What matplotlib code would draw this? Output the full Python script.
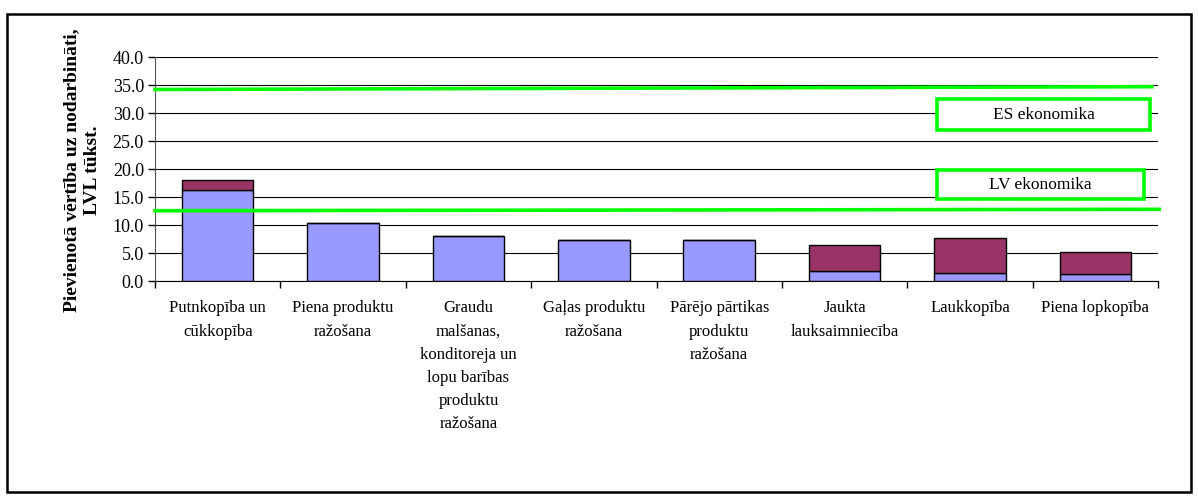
import matplotlib.pyplot as plt
from matplotlib.patches import Rectangle
import numpy as np

plt.rcParams['font.family'] = ['Liberation Serif', 'DejaVu Serif']

# categories and values (LVL thousands per employee)
categories = [
    "Putnkopība un\ncūkkopība",
    "Piena produktu\nražošana",
    "Graudu\nmalšanas,\nkonditoreja un\nlopu barības\nproduktu\nražošana",
    "Gaļas produktu\nražošana",
    "Pārējo pārtikas\nproduktu\nražošana",
    "Jaukta\nlauksaimniecība",
    "Laukkopība",
    "Piena lopkopība",
]
base_values = [16.2, 10.3, 8.1, 7.4, 7.4, 1.8, 1.5, 1.3]
top_values = [1.8, 0.0, 0.0, 0.0, 0.0, 4.6, 6.1, 3.9]

# reference lines (start, end) - hand drawn, slightly sloped
es_line = [34.2, 34.7]
lv_line = [12.55, 12.8]
es_label = "ES ekonomika"
lv_label = "LV ekonomika"

yticks = np.arange(0, 40.1, 5)

fig = plt.figure(figsize=(11.98, 5.0), dpi=100)
ax = fig.add_axes([155 / 1198, 1 - 281 / 500, 1003 / 1198, 224 / 500])

x = np.arange(len(categories))
blue = '#9999FF'
maroon = '#993366'
green = '#00FF00'

ax.bar(x, base_values, width=0.57, color=blue, edgecolor='black', linewidth=1.0, zorder=3)
ax.bar(x, top_values, bottom=base_values, width=0.57, color=maroon,
       edgecolor='black', linewidth=1.0, zorder=3)

ax.set_xlim(-0.5, len(categories) - 0.5)
ax.set_ylim(0, 40)
ax.set_yticks(yticks)
ax.set_yticklabels([f"{v:.1f}" for v in yticks], fontsize=13)
ax.yaxis.grid(True, color='black', linewidth=0.8, zorder=0)
ax.set_axisbelow(True)

# x ticks at category boundaries, labels centred under bars
ax.set_xticks(np.arange(-0.5, len(categories), 1.0))
ax.set_xticklabels([])
ax.set_xticks(x, minor=True)
ax.set_xticklabels(categories, minor=True, fontsize=12, linespacing=1.6, va='top')
ax.tick_params(axis='x', which='minor', length=0, pad=14)
ax.tick_params(axis='x', which='major', length=5, direction='out', width=1)
ax.tick_params(axis='y', length=5, direction='out', width=1, pad=3)

for s in ['top', 'right']:
    ax.spines[s].set_visible(False)
ax.spines['left'].set_color('#555555')
ax.spines['bottom'].set_color('black')

# green lines
ax.plot([-0.5, 7.45], es_line, color=green, linewidth=2.6, zorder=4, clip_on=False)
ax.plot([-0.5, 7.51], lv_line, color=green, linewidth=2.6, zorder=4, clip_on=False)

# label boxes
for (x0, x1, y0, y1), txt in [((5.74, 7.44, 26.96, 32.5), es_label),
                              ((5.74, 7.39, 14.64, 19.8), lv_label)]:
    ax.add_patch(Rectangle((x0, y0), x1 - x0, y1 - y0, facecolor='white',
                           edgecolor=green, linewidth=2.6, zorder=5))
    ax.text((x0 + x1) / 2, (y0 + y1) / 2, txt, ha='center', va='center',
            fontsize=12.5, zorder=6)

fig.text(82 / 1198, 1 - 170 / 500, "Pievienotā vērtība uz nodarbināti,\nLVL tūkst.",
         rotation=90, ha='center', va='center', fontsize=14, fontweight='bold',
         linespacing=1.3)

# outer frame
fig.patches.append(Rectangle((7 / 1198, 8 / 500), 1184 / 1198, 478 / 500,
                             transform=fig.transFigure, fill=False,
                             edgecolor='black', linewidth=1.8))

fig.savefig('out.png', dpi=100)
